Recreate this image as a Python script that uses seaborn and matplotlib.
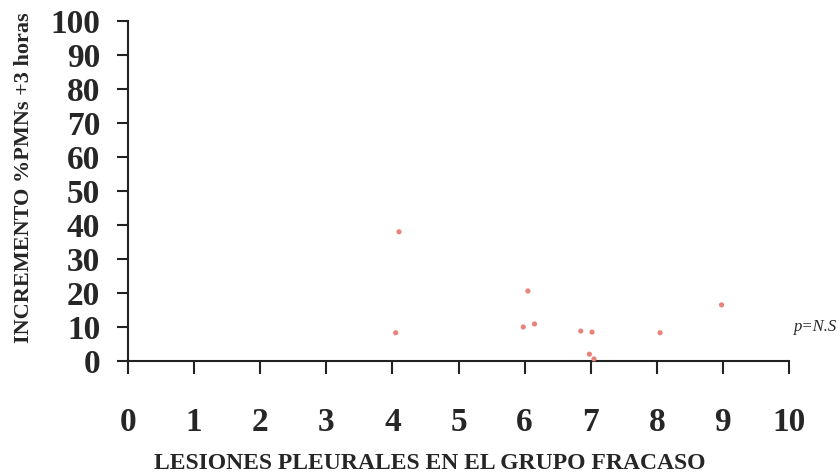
import matplotlib
matplotlib.use("Agg")
import matplotlib.pyplot as plt
import seaborn as sns
import pandas as pd

lesiones = [4.1, 4.05, 6.05, 5.98, 6.15, 6.85, 7.02, 6.98, 7.05, 8.05, 8.98]
incremento = [38, 8.3, 20.6, 10.0, 10.9, 8.8, 8.5, 2.0, 0.6, 8.3, 16.5]
x_ticks = list(range(0, 11))
y_ticks = list(range(0, 101, 10))

df = pd.DataFrame({"x": lesiones, "y": incremento})

sns.set_style("white")
plt.rcParams["font.family"] = ["Liberation Serif", "DejaVu Serif"]

fig = plt.figure(figsize=(8.39, 4.75), dpi=100)
ax = fig.add_axes([128 / 839, 1 - 361 / 475, (789 - 128) / 839, (361 - 21) / 475])

sns.scatterplot(data=df, x="x", y="y", ax=ax, color="#e8837b", s=14,
                edgecolor="none", clip_on=False, zorder=3)

ax.set_xlim(0, 10)
ax.set_ylim(0, 100)
ax.set_xticks(x_ticks)
ax.set_yticks(y_ticks)
ax.set_xticklabels([str(v) for v in x_ticks], fontsize=24, fontweight="bold")
ax.set_yticklabels([str(v) for v in y_ticks], fontsize=24, fontweight="bold")
ax.tick_params(axis="x", bottom=True, direction="out", length=9, width=1.5,
               pad=24, color="#222222")
ax.tick_params(axis="y", left=True, direction="out", length=8, width=1.5,
               pad=12, color="#222222")

for side in ["top", "right"]:
    ax.spines[side].set_visible(False)
for side in ["left", "bottom"]:
    ax.spines[side].set_linewidth(1.5)
    ax.spines[side].set_color("#222222")

ax.set_xlabel("LESIONES PLEURALES EN EL GRUPO FRACASO", fontsize=17,
              fontweight="bold")
ax.xaxis.set_label_coords((430 - 128) / 661, -(453 - 361) / 340)
ax.xaxis.label.set_va("top")
ax.set_ylabel("INCREMENTO %PMNs +3 horas", fontsize=16, fontweight="bold")
ax.yaxis.set_label_coords(-0.142, (361 - 178) / 340)

ax.text(10.07, 10, "p=N.S", fontsize=12, fontstyle="italic", ha="left",
        va="center", clip_on=False)

fig.savefig("out.png", dpi=100, facecolor="white")
